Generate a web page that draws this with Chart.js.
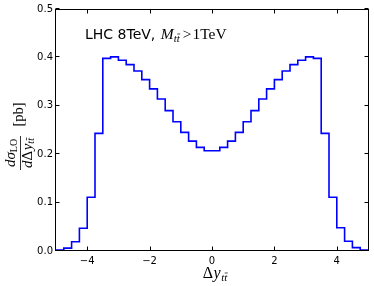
<!DOCTYPE html>
<html><head><meta charset="utf-8">
<script src="https://cdn.jsdelivr.net/npm/chart.js@4.4.1/dist/chart.umd.min.js"></script>
<style>html,body{margin:0;padding:0;background:#fff;} #wrap{width:374px;height:286px;}</style>
</head><body><div id="wrap"><canvas id="c" width="374" height="286"></canvas></div>
<script>
// Bin edges of the Δy_tt̄ histogram (41 edges -> 40 bins)
const binEdges = [-5, -4.75, -4.5, -4.25, -4, -3.75, -3.5, -3.25, -3, -2.75,
  -2.5, -2.25, -2, -1.75, -1.5, -1.25, -1, -0.75, -0.5, -0.25,
  0, 0.25, 0.5, 0.75, 1, 1.25, 1.5, 1.75, 2, 2.25,
  2.5, 2.75, 3, 3.25, 3.5, 3.75, 4, 4.25, 4.5, 4.75, 5];
// dσ_LO/dΔy [pb] per bin
const xsecLO = [0.002, 0.006, 0.019, 0.047, 0.111, 0.243, 0.398, 0.401, 0.394, 0.385,
  0.372, 0.354, 0.335, 0.314, 0.290, 0.267, 0.245, 0.227, 0.214, 0.207,
  0.207, 0.214, 0.227, 0.245, 0.267, 0.290, 0.314, 0.335, 0.354, 0.372,
  0.385, 0.394, 0.401, 0.398, 0.243, 0.111, 0.048, 0.020, 0.007, 0.002];
const xTickValues = [-4, -2, 0, 2, 4];
const yTickValues = [0, 0.1, 0.2, 0.3, 0.4, 0.5];

const histPoints = binEdges.map((e, i) => ({x: e, y: xsecLO[Math.min(i, xsecLO.length - 1)]}));

const TICKFONT = '"DejaVu Sans"';
const SERIF = '"Liberation Serif", "DejaVu Serif", serif';

function drawRuns(ctx, runs, x, baseline, align) {
  let w = 0;
  runs.forEach(r => { ctx.font = r.font; r.w = ctx.measureText(r.t).width; w += r.w + (r.gap || 0); });
  let cx = align === 'center' ? x - w / 2 : x;
  runs.forEach(r => {
    ctx.font = r.font;
    const by = baseline + (r.dy || 0);
    ctx.fillText(r.t, cx, by);
    if (r.bar) {
      ctx.save();
      ctx.lineWidth = 0.7;
      ctx.beginPath();
      ctx.moveTo(cx + 0.5, by - r.bar);
      ctx.lineTo(cx + r.w + 0.5, by - r.bar);
      ctx.stroke();
      ctx.restore();
    }
    cx += r.w + (r.gap || 0);
  });
  return w;
}

const decor = {
  id: 'decor',
  afterDraw(chart) {
    const {ctx, chartArea: a, scales: {x, y}} = chart;
    ctx.save();
    ctx.strokeStyle = '#000';
    ctx.fillStyle = '#000';
    ctx.lineWidth = 1;
    const L = a.left - 0.5, R = a.right + 0.5, T = a.top + 0.5, B = a.bottom - 0.5;
    ctx.strokeRect(L, T, R - L, B - T);
    ctx.beginPath();
    xTickValues.forEach(v => {
      const px = Math.round(x.getPixelForValue(v)) + 0.5;
      ctx.moveTo(px, B); ctx.lineTo(px, B - 4);
      ctx.moveTo(px, T); ctx.lineTo(px, T + 4);
    });
    yTickValues.forEach(v => {
      const py = Math.round(y.getPixelForValue(v)) - 0.5;
      ctx.moveTo(L, py); ctx.lineTo(L + 4, py);
      ctx.moveTo(R, py); ctx.lineTo(R - 4, py);
    });
    ctx.stroke();

    ctx.textBaseline = 'alphabetic';
    // annotation
    drawRuns(ctx, [
      {t: 'LHC 8TeV, ', font: '14px ' + TICKFONT, gap: 1},
      {t: 'M', font: 'italic 15.5px ' + SERIF},
      {t: 't', font: 'italic 11px ' + SERIF, dy: 3},
      {t: 't', font: 'italic 11px ' + SERIF, dy: 3, bar: 8, gap: 3},
      {t: '>', font: '15.5px ' + SERIF, gap: 1},
      {t: '1TeV', font: '15.5px ' + SERIF}
    ], 85, 39, 'left');

    // x title
    drawRuns(ctx, [
      {t: 'Δ', font: '16px ' + SERIF, gap: 0.5},
      {t: 'y', font: 'italic 16px ' + SERIF, gap: 0.5},
      {t: 't', font: 'italic 11px ' + SERIF, dy: 3},
      {t: 't', font: 'italic 11px ' + SERIF, dy: 3, bar: 8}
    ], 215, 278, 'center');

    // y title (rotated)
    ctx.save();
    ctx.translate(20, 153);
    ctx.rotate(-Math.PI / 2);
    drawRuns(ctx, [
      {t: 'dσ', font: 'italic 15px ' + SERIF},
      {t: 'LO', font: '10px ' + SERIF, dy: 2}
    ], 0, -5, 'center');
    drawRuns(ctx, [
      {t: 'd', font: 'italic 15px ' + SERIF},
      {t: 'Δ', font: '15px ' + SERIF, gap: 0.5},
      {t: 'y', font: 'italic 15px ' + SERIF},
      {t: 't', font: 'italic 10px ' + SERIF, dy: 2},
      {t: 't', font: 'italic 10px ' + SERIF, dy: 2, bar: 7}
    ], 0, 11.5, 'center');
    ctx.lineWidth = 0.8;
    ctx.beginPath(); ctx.moveTo(-17, 0.5); ctx.lineTo(17, 0.5); ctx.stroke();
    ctx.font = '14.5px ' + SERIF;
    ctx.fillText('[pb]', 26.5, 3);
    ctx.restore();
    ctx.restore();
  }
};

new Chart(document.getElementById('c'), {
  type: 'line',
  data: {
    datasets: [{
      data: histPoints,
      stepped: 'before',
      borderColor: '#0000ff',
      borderWidth: 1.6,
      pointRadius: 0,
      fill: false,
      tension: 0
    }]
  },
  options: {
    responsive: false,
    animation: false,
    devicePixelRatio: 1,
    layout: {padding: {left: 0, right: 6, top: 9, bottom: 0}},
    plugins: {legend: {display: false}, tooltip: {enabled: false}},
    scales: {
      x: {
        type: 'linear', min: -5, max: 5,
        afterBuildTicks: s => { s.ticks = xTickValues.map(v => ({value: v})); },
        afterFit: s => { s.height = 35; },
        grid: {display: false, drawTicks: false},
        border: {display: false},
        ticks: {
          padding: 4, color: '#000', font: {family: 'DejaVu Sans', size: 10}, maxRotation: 0,
          callback: v => (v < 0 ? '\u2212' + Math.abs(v) : String(v))
        }
      },
      y: {
        type: 'linear', min: 0, max: 0.5,
        afterBuildTicks: s => { s.ticks = yTickValues.map(v => ({value: v})); },
        afterFit: s => { s.width = 56; },
        grid: {display: false, drawTicks: false},
        border: {display: false},
        ticks: {
          padding: 3, color: '#000', font: {family: 'DejaVu Sans', size: 10},
          callback: v => Number(v).toFixed(1)
        }
      }
    }
  },
  plugins: [decor]
});
</script>
</body></html>
